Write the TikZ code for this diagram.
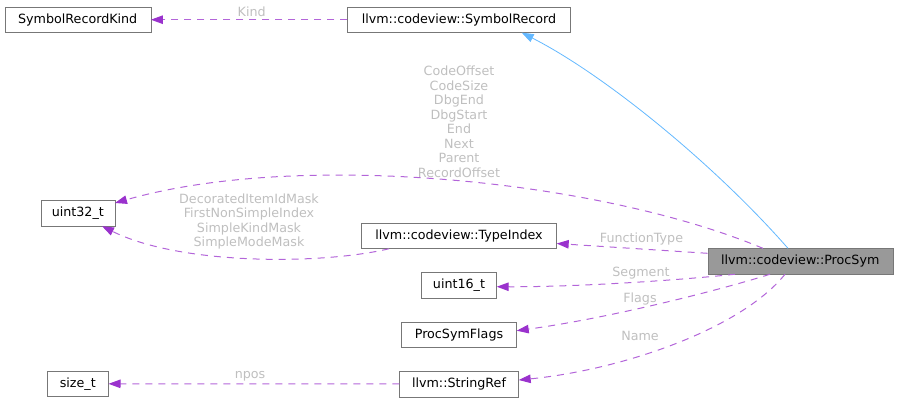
\documentclass[tikz,border=0pt]{standalone}
\usepackage{fontspec}
\setmainfont{DejaVu Sans}
\usetikzlibrary{positioning, arrows.meta}

\begin{document}
\begin{tikzpicture}[
				x=1pt, y=-1pt,
				box/.style={draw=boxgray, rectangle, align=center, inner sep=0pt, minimum height=25.5pt, font=\fontsize{12.7}{15}\selectfont},
				mainbox/.style={box, fill=procgray},
				lbl/.style={text=lblgray, align=center, inner sep=0pt, font=\fontsize{12.7}{14.5}\selectfont},
				member/.style={-{Triangle[length=12pt, width=8.5pt, color=edgepurple]}, draw=edgepurple!75!white, line width=1pt, dash pattern=on 7pt off 6pt},
				inherit/.style={-{Triangle[length=12pt, width=8.5pt, color=edgeblue]}, draw=edgeblue, line width=0.8pt},
			]
			\definecolor{boxgray}{HTML}{777777}
			\definecolor{procgray}{HTML}{999999}
			\definecolor{lblgray}{HTML}{BFBFBF}
			\definecolor{edgepurple}{HTML}{9A32CD}
			\definecolor{edgeblue}{HTML}{63B8FF}
			\useasboundingbox (0,0) rectangle (899,402);

			% top row
			\node[box, minimum width=146pt] (kind) at (77.7,19.7) {SymbolRecordKind};
			\node[box, minimum width=223pt] (symrec) at (459,19.7) {llvm::codeview::SymbolRecord};

			% left column
			\node[box, minimum width=74pt] (u32) at (77.8,213.2) {uint32\_t};
			\node[box, minimum width=61pt] (sizet) at (77.8,383.8) {size\_t};

			% middle column
			\node[box, minimum width=195pt] (typeidx) at (459,235.8) {llvm::codeview::TypeIndex};
			\node[box, minimum width=75pt] (u16) at (459,285.2) {uint16\_t};
			\node[box, minimum width=115pt, below=23.5pt of u16] (flags) {ProcSymFlags};
			\node[box, minimum width=119pt, below=23.5pt of flags] (strref) {llvm::StringRef};

			% the class itself
			\node[mainbox, minimum width=185pt] (proc) at (800.2,261.3) {llvm::codeview::ProcSym};

			% base class
			\draw[inherit] (proc.north -| 788,0) .. controls (715,165) and (605,75) .. (symrec.south -| 521.7,0);

			% members
			\draw[member] (symrec) -- (kind);
			\draw[member] (proc.north -| 763,0) .. controls (600,180) and (300,150) .. (u32.east |- 0,203);
			\draw[member] (typeidx.south -| 389,0) .. controls (320,265) and (180,265) .. (u32.south -| 102,0);
			\draw[member] (proc.west |- 0,253.3) -- (typeidx.east |- 0,243.5);
			\draw[member] (proc.south -| 735,0) .. controls (680,280) and (580,287) .. (u16.east |- 0,286.7);
			\draw[member] (proc.south -| 770,0) .. controls (720,290) and (610,318) .. (flags.east |- 0,330.7);
			\draw[member] (proc.south -| 785,0) .. controls (740,330) and (620,370) .. (strref.east |- 0,380);
			\draw[member] (strref) -- (sizet);

			% labels
			\node[lbl] (lkind) at (251.7,11.7) {Kind};
			\node[lbl] (lproc) at (459,121.8) {CodeOffset\\CodeSize\\DbgEnd\\DbgStart\\End\\Next\\Parent\\RecordOffset};
			\node[lbl] (lmask) at (249,221.7) {DecoratedItemIdMask\\FirstNonSimpleIndex\\SimpleKindMask\\SimpleModeMask};
			\node[lbl] (lfunc) at (641.5,238.7) {FunctionType};
			\node[lbl] (lseg) at (641,272.7) {Segment};
			\node[lbl] (lflags) at (640,299) {Flags};
			\node[lbl] (lname) at (640,336) {Name};
			\node[lbl] (lnpos) at (250,376) {npos};
		\end{tikzpicture}
\end{document}
